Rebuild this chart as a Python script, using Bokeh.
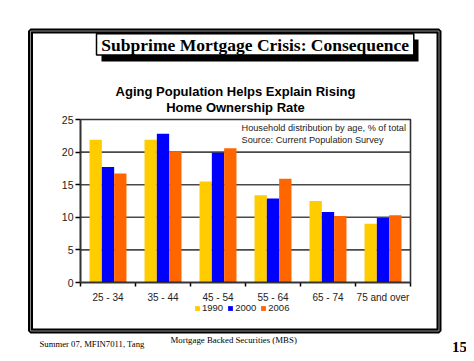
from bokeh.plotting import figure
from bokeh.models import (Range1d, FixedTicker, Label, BoxAnnotation, Legend, LegendItem,
                          ColumnDataSource, LinearAxis)
from bokeh.transform import dodge
from bokeh.embed import file_html
from bokeh.resources import INLINE

categories = ["25 - 34", "35 - 44", "45 - 54", "55 - 64", "65 - 74", "75 and over"]
years = ["1990", "2000", "2006"]
v1990 = [21.9, 21.9, 15.5, 13.4, 12.5, 9.0]
v2000 = [17.7, 22.8, 19.9, 12.9, 10.8, 9.9]
v2006 = [16.7, 20.1, 20.6, 15.9, 10.2, 10.3]
y_ticks = [0, 5, 10, 15, 20, 25]
colors = ["#FFCC00", "#0000FF", "#FF6600"]

main_title = "Subprime Mortgage Crisis: Consequence"
chart_title = ["Aging Population Helps Explain Rising", "Home Ownership Rate"]
note = ["Household distribution by age, % of total", "Source: Current Population Survey"]
footer_left = "Summer 07, MFIN7011, Tang"
footer_mid = "Mortgage Backed Securities (MBS)"
page_no = "15"

SANS = "Liberation Sans"
SERIF = "Liberation Serif"

n = len(categories)
ymax = y_ticks[-1]
centers = [i + 0.5 for i in range(n)]
src = ColumnDataSource(dict(x=centers, cat=categories, v1990=v1990, v2000=v2000, v2006=v2006))

# canvas layout (pixels): the chart's plot area sits inside a slide-like canvas
W, H = 466, 353
PL, PR, PT, PB = 80, 410, 119, 282          # plot-area edges on the canvas
kx = (PR - PL) / n
ky = (PB - PT) / ymax
x_range = Range1d(-PL / kx, n + (W - PR) / kx)
y_range = Range1d(-(H - PB) / ky, ymax + PT / ky)

p = figure(width=W, height=H, output_backend="svg", toolbar_location=None,
           x_range=x_range, y_range=y_range, x_axis_type=None, y_axis_type=None,
           min_border=0, min_border_left=0, min_border_right=0,
           min_border_top=0, min_border_bottom=0)
p.background_fill_color = "white"
p.border_fill_color = "white"
p.outline_line_color = None
p.xgrid.visible = False
p.ygrid.visible = False

# horizontal grid lines across the plot area only
inner = y_ticks[1:-1]
p.segment(x0=[0] * len(inner), x1=[n] * len(inner), y0=inner, y1=inner,
          line_color="#4a4a4a", line_width=1.6)

bw = 0.224
offsets = [-bw, 0.0, bw]
cols = ["v1990", "v2000", "v2006"]
renderers = []
for col, off, c in zip(cols, offsets, colors):
    r = p.vbar(x=dodge("x", off, range=p.x_range), top=col, width=bw, source=src,
               fill_color=c, line_color=None)
    renderers.append(r)

# plot-area box (top and right edges)
p.add_layout(BoxAnnotation(left=0, right=n, bottom=0, top=ymax, fill_alpha=0,
                           line_color="#333333", line_alpha=1, line_width=1.6))

# axes drawn at fixed locations inside the canvas
xa = LinearAxis(fixed_location=0, bounds=(0, n))
xa.ticker = FixedTicker(ticks=centers, minor_ticks=list(range(n + 1)))
xa.major_label_overrides = {c: lab for c, lab in zip(centers, categories)}
xa.major_tick_line_color = None
xa.major_tick_out = 4
xa.major_tick_in = 0
xa.minor_tick_out = 4
xa.minor_tick_in = 0
xa.minor_tick_line_color = "black"
xa.minor_tick_line_width = 1.5
xa.axis_line_color = "black"
xa.axis_line_width = 1.5
xa.major_label_standoff = 5
xa.major_label_text_font = SANS
xa.major_label_text_font_size = "10px"
xa.major_label_text_color = "#222222"
p.add_layout(xa, "below")

ya = LinearAxis(fixed_location=0, bounds=(0, ymax))
ya.ticker = FixedTicker(ticks=y_ticks, minor_ticks=[])
ya.major_tick_out = 5
ya.major_tick_in = 0
ya.major_tick_line_color = "black"
ya.major_tick_line_width = 1.5
ya.axis_line_color = "black"
ya.axis_line_width = 1.5
ya.major_label_standoff = 2
ya.major_label_text_font = SANS
ya.major_label_text_font_size = "10.5px"
ya.major_label_text_color = "#222222"
p.add_layout(ya, "left")

# legend below the axis
legend = Legend(items=[LegendItem(label=y, renderers=[r]) for y, r in zip(years, renderers)],
                orientation="horizontal", location=(194, 40),
                glyph_width=6, glyph_height=6, label_standoff=2, spacing=4,
                label_text_font=SANS, label_text_font_size="9.5px", label_text_color="#222222",
                label_height=10, padding=0, margin=0,
                border_line_color=None, background_fill_alpha=0)
p.add_layout(legend)

def cbox(l, r, t, b, **kw):
    return BoxAnnotation(left=l, right=r, top=t, bottom=b,
                         left_units="canvas", right_units="canvas",
                         top_units="canvas", bottom_units="canvas", **kw)

# outer slide frame (double line)
p.add_layout(cbox(30, 438.5, 30.5, 330.5, fill_alpha=0, line_color="black",
                  line_alpha=1, line_width=5))
p.add_layout(cbox(30, 438.5, 30.5, 330.5, fill_alpha=0, line_color="#8c8c8c",
                  line_alpha=1, line_width=1))

# title box with drop shadow
p.add_layout(cbox(101, 418, 39, 61, fill_color="black", fill_alpha=1, line_color=None))
p.add_layout(cbox(96, 413.3, 33.3, 54.5, fill_color="white", fill_alpha=1,
                  line_color="black", line_alpha=1, line_width=1.5))
p.add_layout(Label(x=254.7, y=44, x_units="canvas", y_units="canvas", text=main_title,
                   text_font=SERIF, text_font_style="bold", text_font_size="17.5px",
                   text_align="center", text_baseline="middle", text_color="black"))

# chart title
for i, t in enumerate(chart_title):
    p.add_layout(Label(x=235, y=91 + 16 * i, x_units="canvas", y_units="canvas", text=t,
                       text_font=SANS, text_font_style="bold", text_font_size="13px",
                       text_align="center", text_baseline="middle", text_color="black"))

# note in the plot area
for i, t in enumerate(note):
    p.add_layout(Label(x=241, y=127 + 12 * i, x_units="canvas", y_units="canvas", text=t,
                       text_font=SANS, text_font_size="9.2px",
                       text_align="left", text_baseline="middle", text_color="#222222"))

# footer
p.add_layout(Label(x=39, y=343, x_units="canvas", y_units="canvas", text=footer_left,
                   text_font=SERIF, text_font_size="8.7px",
                   text_align="left", text_baseline="middle", text_color="black"))
p.add_layout(Label(x=170, y=339, x_units="canvas", y_units="canvas", text=footer_mid,
                   text_font=SERIF, text_font_size="8.8px",
                   text_align="left", text_baseline="middle", text_color="black"))
p.add_layout(Label(x=459, y=346, x_units="canvas", y_units="canvas", text=page_no,
                   text_font=SERIF, text_font_style="bold", text_font_size="15px",
                   text_align="center", text_baseline="middle", text_color="black"))

open("out.html", "w").write(file_html(p, INLINE))
